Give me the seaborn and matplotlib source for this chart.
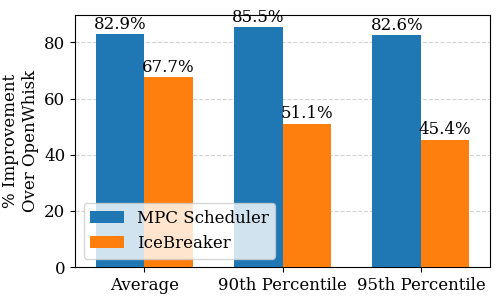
import matplotlib
matplotlib.use("Agg")
import matplotlib.pyplot as plt
import pandas as pd
import seaborn as sns

categories = ["Average", "90th Percentile", "95th Percentile"]
mpc_values = [82.9, 85.5, 82.6]
icebreaker_values = [67.7, 51.1, 45.4]
series_names = ["MPC Scheduler", "IceBreaker"]

df = pd.DataFrame({
    "metric": categories * 2,
    "value": mpc_values + icebreaker_values,
    "method": [series_names[0]] * 3 + [series_names[1]] * 3,
})

plt.rcParams["font.family"] = ["DejaVu Serif"]
plt.rcParams["font.size"] = 12

fig, ax = plt.subplots(figsize=(4.98, 2.99), dpi=100)
sns.barplot(data=df, x="metric", y="value", hue="method", ax=ax,
            palette=["#1f77b4", "#ff7f0e"], saturation=1, width=0.7,
            gap=0, zorder=3)

for cont in ax.containers:
    ax.bar_label(cont, fmt="%.1f%%", fontsize=12, padding=1)

ax.set_ylim(0, max(mpc_values) * 1.05)
ax.set_xlabel("")
ax.set_ylabel("% Improvement\nOver OpenWhisk", fontsize=12)
ax.yaxis.grid(True, linestyle="--", color="lightgray", zorder=0)
ax.set_axisbelow(True)
ax.tick_params(labelsize=12)
ax.legend(loc="lower left", fontsize=12, framealpha=0.8)

fig.subplots_adjust(left=0.151, right=0.984, top=0.95, bottom=0.107)
fig.savefig("out.png", dpi=100)
